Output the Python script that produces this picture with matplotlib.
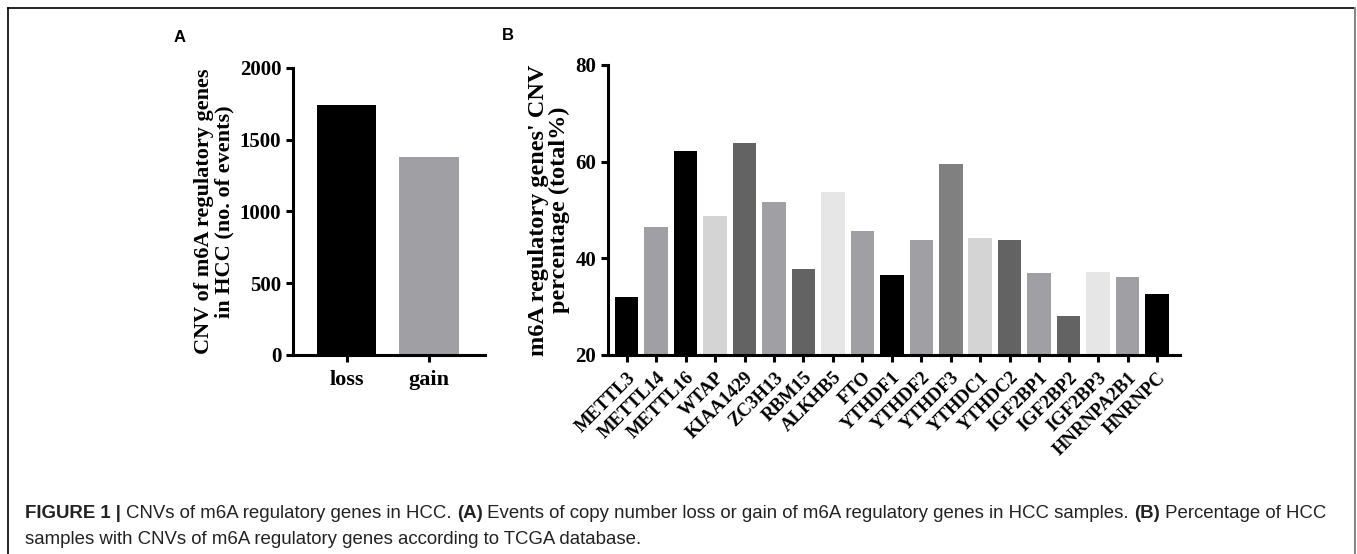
import matplotlib
matplotlib.use('Agg')
import matplotlib.pyplot as plt
from matplotlib.lines import Line2D

# panel A data
cnv_types = ['loss', 'gain']
cnv_events = [1740, 1380]
cnv_colors = ['#000000', '#a0a0a4']

# panel B data
genes = ['METTL3', 'METTL14', 'METTL16', 'WTAP', 'KIAA1429', 'ZC3H13', 'RBM15',
         'ALKHB5', 'FTO', 'YTHDF1', 'YTHDF2', 'YTHDF3', 'YTHDC1', 'YTHDC2',
         'IGF2BP1', 'IGF2BP2', 'IGF2BP3', 'HNRNPA2B1', 'HNRNPC']
cnv_pct = [32.1, 46.4, 62.3, 48.8, 63.9, 51.7, 37.8, 53.7, 45.7, 36.5,
           43.7, 59.6, 44.2, 43.7, 36.9, 28.1, 37.2, 36.2, 32.7]
gene_colors = ['#000000', '#a0a0a4', '#000000', '#d4d4d4', '#636363', '#a0a0a4',
               '#636363', '#e6e6e6', '#a0a0a4', '#000000', '#a0a0a4', '#808080',
               '#d4d4d4', '#636363', '#a0a0a4', '#636363', '#e6e6e6', '#a0a0a4',
               '#000000']

serif = 'Liberation Serif'
sans = 'Liberation Sans'
W, H = 1357, 554
fig = plt.figure(figsize=(W / 100, H / 100), dpi=100)

def style_axes(ax):
    for s in ['top', 'right']:
        ax.spines[s].set_visible(False)
    for s in ['left', 'bottom']:
        ax.spines[s].set_linewidth(2.2)
    ax.tick_params(width=2.2, length=5, labelsize=15)
    for lab in ax.get_yticklabels():
        lab.set_fontfamily(serif)
        lab.set_fontweight('bold')

# ---- panel A ----
axA = fig.add_axes([293 / W, 1 - 355 / H, (485 - 293) / W, (355 - 68) / H])
axA.bar(range(len(cnv_types)), cnv_events, width=0.72, color=cnv_colors)
axA.set_xlim(-0.655, 1.68)
axA.set_ylim(0, 2000)
axA.set_yticks([0, 500, 1000, 1500, 2000])
axA.set_xticks(range(len(cnv_types)))
axA.set_xticklabels(cnv_types, fontfamily=serif, fontweight='bold')
axA.set_ylabel('CNV of m6A regulatory genes\nin HCC (no. of events)',
               fontfamily=serif, fontweight='bold', fontsize=16, linespacing=1.0,
               labelpad=4)
style_axes(axA)
axA.tick_params(axis='x', labelsize=16, pad=6)

# ---- panel B ----
axB = fig.add_axes([608 / W, 1 - 355 / H, (1180 - 608) / W, (355 - 65) / H])
axB.bar(range(len(genes)), [v - 20 for v in cnv_pct], bottom=20, width=0.8,
        color=gene_colors)
axB.set_xlim(-0.635, 18.78)
axB.set_ylim(20, 80)
axB.set_yticks([20, 40, 60, 80])
axB.set_xticks(range(len(genes)))
axB.set_xticklabels(genes, fontfamily=serif, fontweight='bold',
                    rotation=45, ha='right', rotation_mode='anchor')
axB.set_ylabel("m6A regulatory genes' CNV\npercentage (total%)",
               fontfamily=serif, fontweight='bold', fontsize=17.5, linespacing=1.0,
               labelpad=4)
style_axes(axB)
axB.tick_params(axis='x', labelsize=13.5, pad=5)

fig.text(180 / W, 1 - 38 / H, 'A', fontfamily=sans, fontweight='bold',
         fontsize=12, va='center', ha='center')
fig.text(508 / W, 1 - 36 / H, 'B', fontfamily=sans, fontweight='bold',
         fontsize=12, va='center', ha='center')

# frame around the figure
fig.add_artist(Line2D([8 / W, 1355 / W], [1 - 8 / H, 1 - 8 / H], color='black', lw=1.2))
fig.add_artist(Line2D([8 / W, 8 / W], [0, 1 - 8 / H], color='black', lw=1.2))
fig.add_artist(Line2D([1355 / W, 1355 / W], [0, 1 - 8 / H], color='#888888', lw=1.5))

# caption, pieces laid out one after another
renderer = fig.canvas.get_renderer()
cap_size = 13.4
line1 = [('FIGURE 1 | ', 'bold'),
         ('CNVs of m6A regulatory genes in HCC. ', 'normal'),
         ('(A)', 'bold'),
         (' Events of copy number loss or gain of m6A regulatory genes in HCC samples. ', 'normal'),
         ('(B)', 'bold'),
         (' Percentage of HCC', 'normal')]
x = 25
for txt, wt in line1:
    t = fig.text(x / W, 1 - 513 / H, txt, fontfamily=sans, fontweight=wt,
                 fontsize=cap_size, va='center', ha='left', color='#222222')
    x += t.get_window_extent(renderer).width
fig.text(25 / W, 1 - 539 / H,
         'samples with CNVs of m6A regulatory genes according to TCGA database.',
         fontfamily=sans, fontsize=cap_size, va='center', ha='left', color='#222222')

fig.savefig('out.png', dpi=100)
